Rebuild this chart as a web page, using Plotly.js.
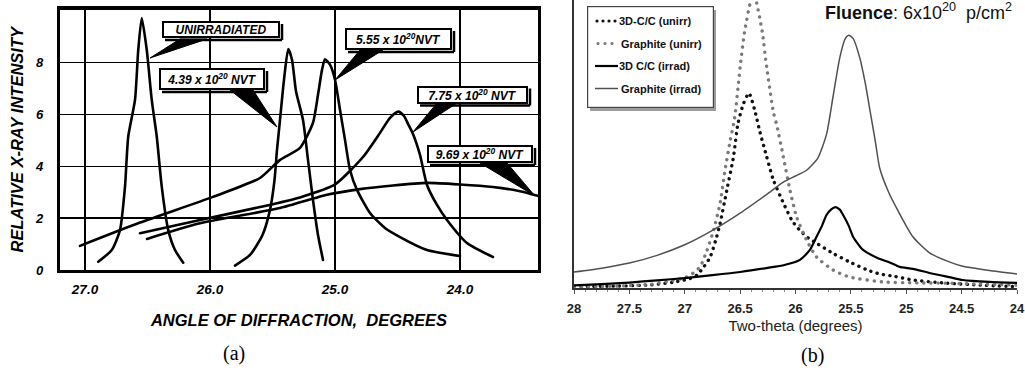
<!DOCTYPE html>
<html>
<head>
<meta charset="utf-8">
<script src="https://cdn.plot.ly/plotly-3.0.1.min.js"></script>
<style>
html,body{margin:0;padding:0;background:#fff;}
#chart{width:1025px;height:372px;}
path.js-line{stroke-linecap:round;stroke-linejoin:round;}
</style>
</head>
<body>
<div id="chart"></div>
<script>
// ---------- Panel (a): relative X-ray intensity vs angle of diffraction ----------
const unirrX = [26.894, 26.786, 26.72, 26.68, 26.654, 26.60, 26.574, 26.546, 26.506, 26.466, 26.426, 26.386, 26.334, 26.28, 26.214];
const unirrY = [0.32, 0.77, 1.54, 3.22, 5.15, 6.56, 8.49, 9.72, 8.49, 6.56, 5.15, 3.22, 1.54, 0.77, 0.28];

const n439X = [25.80, 25.68, 25.58, 25.52, 25.484, 25.464, 25.44, 25.408, 25.374, 25.344, 25.312, 25.256, 25.216, 25.176, 25.136, 25.096];
const n439Y = [0.17, 0.58, 1.35, 2.32, 3.47, 4.63, 5.79, 7.34, 8.52, 8.11, 6.9, 5.79, 4.25, 2.7, 1.35, 0.39];

const n555X = [27.04, 26.56, 25.976, 25.60, 25.44, 25.28, 25.176, 25.136, 25.104, 25.08, 25.04, 25.0, 24.96, 24.92, 24.88, 24.824, 24.72, 24.60, 24.48, 24.264, 24.0];
const n555Y = [0.93, 1.83, 2.82, 3.55, 4.25, 4.71, 5.68, 6.76, 7.72, 8.13, 7.92, 7.34, 6.18, 5.02, 3.86, 3.09, 2.2, 1.62, 1.27, 0.77, 0.54];

const n775X = [26.56, 26.08, 25.60, 25.28, 25.0, 24.776, 24.64, 24.56, 24.494, 24.448, 24.416, 24.376, 24.32, 24.264, 24.184, 24.104, 23.944, 23.736];
const n775Y = [1.42, 1.93, 2.43, 2.8, 3.3, 4.36, 5.29, 5.87, 6.11, 5.94, 5.64, 5.25, 4.44, 3.28, 2.51, 1.93, 1.04, 0.5];

const n969X = [26.504, 26.08, 25.44, 25.064, 24.80, 24.536, 24.264, 24.0, 23.736, 23.52, 23.376];
const n969Y = [1.2, 1.8, 2.39, 2.9, 3.12, 3.26, 3.36, 3.3, 3.2, 3.04, 2.86];

const aXTicks = [27, 26, 25, 24];
const aXTickText = ['27.0', '26.0', '25.0', '24.0'];
const aYTicks = [0, 2, 4, 6, 8];
const aLabels = ['UNIRRADIATED', '4.39 x 10<sup>20</sup> NVT', '5.55 x 10<sup>20</sup>NVT', '7.75 x 10<sup>20</sup> NVT', '9.69 x 10<sup>20</sup> NVT'];

// ---------- Panel (b): intensity vs two-theta ----------
const ccUnirrX = [28.0, 27.6, 27.3, 27.1, 26.95, 26.89, 26.83, 26.77, 26.72, 26.68, 26.62, 26.56, 26.52, 26.47, 26.42, 26.37, 26.32, 26.26, 26.20, 26.11, 26.03, 25.96, 25.88, 25.81, 25.66, 25.51, 25.35, 25.24, 25.1, 24.94, 24.63, 24.33, 24.0];
const ccUnirrY = [0.05, 0.06, 0.1, 0.18, 0.3, 0.4, 0.65, 0.97, 1.5, 2.03, 3.06, 4.1, 5.13, 5.76, 6.09, 5.58, 4.86, 4.1, 3.38, 2.66, 2.1, 1.8, 1.55, 1.4, 1.08, 0.81, 0.56, 0.44, 0.36, 0.25, 0.15, 0.09, 0.04];

const grUnirrX = [28.0, 27.6, 27.3, 27.13, 27.0, 26.93, 26.86, 26.80, 26.74, 26.68, 26.64, 26.59, 26.55, 26.50, 26.46, 26.41, 26.38, 26.35, 26.30, 26.26, 26.20, 26.17, 26.11, 26.05, 25.99, 25.90, 25.81, 25.66, 25.51, 25.21, 24.9, 24.63, 24.3, 24.0];
const grUnirrY = [0.04, 0.06, 0.12, 0.22, 0.32, 0.45, 0.67, 1.17, 1.8, 2.66, 3.6, 4.6, 5.3, 6.9, 8.0, 8.9, 9.3, 8.9, 8.0, 6.9, 5.5, 5.1, 4.1, 3.06, 2.22, 1.5, 0.97, 0.56, 0.34, 0.19, 0.16, 0.15, 0.12, 0.09];

const ccIrradX = [28.0, 27.75, 27.5, 27.25, 27.0, 26.75, 26.5, 26.25, 26.1, 25.96, 25.87, 25.81, 25.76, 25.72, 25.68, 25.64, 25.6, 25.57, 25.52, 25.48, 25.43, 25.39, 25.26, 25.15, 25.06, 24.94, 24.79, 24.6, 24.49, 24.25, 24.0];
const ccIrradY = [0.08, 0.12, 0.17, 0.24, 0.31, 0.4, 0.5, 0.63, 0.72, 0.88, 1.19, 1.6, 1.95, 2.28, 2.45, 2.53, 2.45, 2.28, 1.95, 1.6, 1.35, 1.19, 0.94, 0.8, 0.66, 0.6, 0.47, 0.33, 0.25, 0.19, 0.16];

const grIrradX = [28.0, 27.75, 27.5, 27.25, 27.0, 26.75, 26.5, 26.25, 26.1, 26.0, 25.9, 25.8, 25.72, 25.66, 25.6, 25.55, 25.52, 25.48, 25.42, 25.37, 25.33, 25.28, 25.24, 25.16, 25.08, 24.94, 24.79, 24.6, 24.49, 24.25, 24.0];
const grIrradY = [0.5, 0.62, 0.78, 1.02, 1.35, 1.8, 2.34, 2.95, 3.33, 3.5, 3.68, 4.05, 4.8, 6.0, 7.2, 7.8, 7.9, 7.8, 7.2, 6.4, 5.6, 4.6, 3.75, 3.0, 2.45, 1.6, 1.1, 0.8, 0.68, 0.55, 0.44];

const seriesNames = ['3D-C/C (unirr)', 'Graphite (unirr)', '3D C/C (irrad)', 'Graphite (irrad)'];
const seriesColors = ['#111111', '#7a7a7a', '#000000', '#505050'];

// ---------- layout helpers (pixel -> paper) ----------
const W = 1025, H = 372;
const px = v => v / W;
const py = v => 1 - v / H;
const ARIAL = '"Liberation Sans", Arial, sans-serif';
const SERIF = '"Liberation Serif", "Times New Roman", serif';

const aLine = {color: '#000', width: 2.6, shape: 'spline', smoothing: 0.6};
function aTrace(x, y) {
  return {x, y, xaxis: 'x', yaxis: 'y', type: 'scatter', mode: 'lines', line: aLine, showlegend: false, hoverinfo: 'skip'};
}

const traces = [
  aTrace(unirrX, unirrY),
  aTrace(n439X, n439Y),
  aTrace(n555X, n555Y),
  aTrace(n775X, n775Y),
  aTrace(n969X, n969Y),
  {x: ccUnirrX, y: ccUnirrY, xaxis: 'x2', yaxis: 'y2', type: 'scatter', mode: 'lines', name: seriesNames[0], showlegend: false,
   line: {color: seriesColors[0], width: 3.4, dash: '0.1px,6.4px', shape: 'spline', smoothing: 0.6}},
  {x: grUnirrX, y: grUnirrY, xaxis: 'x2', yaxis: 'y2', type: 'scatter', mode: 'lines', name: seriesNames[1], showlegend: false,
   line: {color: seriesColors[1], width: 3.4, dash: '0.1px,7px', shape: 'spline', smoothing: 0.6}},
  {x: ccIrradX, y: ccIrradY, xaxis: 'x2', yaxis: 'y2', type: 'scatter', mode: 'lines', name: seriesNames[2], showlegend: false,
   line: {color: seriesColors[2], width: 2.2, shape: 'spline', smoothing: 0.6}},
  {x: grIrradX, y: grIrradY, xaxis: 'x2', yaxis: 'y2', type: 'scatter', mode: 'lines', name: seriesNames[3], showlegend: false,
   line: {color: seriesColors[3], width: 1.5, shape: 'spline', smoothing: 0.6}}
];

// label boxes for panel (a): [centerX, centerY, width, height] in px, and wedge [b1x,b1y,b2x,b2y,tipx,tipy]
const boxes = [
  [221, 29.5, 118, 17], [212, 79, 106, 22], [398.5, 39, 107, 22], [472.5, 94.5, 111, 18], [480, 154, 106, 18]
];
const wedges = [
  [180, 39, 207, 39, 150, 58],
  [230, 90, 253, 90, 277, 127],
  [360, 50, 383, 50, 335, 80],
  [437, 103, 457, 103, 413, 132],
  [480, 163, 507, 163, 535, 196]
];

function seg(x0, y0, x1, y1, color, width) {
  return {type: 'line', xref: 'paper', yref: 'paper', layer: 'above',
    x0: px(x0), y0: py(y0), x1: px(x1), y1: py(y1), line: {color: color, width: width}};
}

const shapes = [];
wedges.forEach(w => {
  shapes.push({type: 'path', xref: 'paper', yref: 'paper', layer: 'above',
    path: `M${px(w[0])},${py(w[1])} L${px(w[2])},${py(w[3])} L${px(w[4])},${py(w[5])} Z`,
    fillcolor: '#000', line: {color: '#000', width: 1}});
});
boxes.forEach(b => {
  const r = b[0] + b[2] / 2 + 2, btm = b[1] + b[3] / 2 + 2;
  shapes.push(seg(r, b[1] - b[3] / 2 + 3, r, btm, '#000', 2.5));
  shapes.push(seg(b[0] - b[2] / 2 + 3, btm, r, btm, '#000', 2.5));
});

// legend samples
const legRows = [21, 43.5, 66, 88.5];
[597, 603, 609, 615].forEach(cx => shapes.push({type: 'circle', xref: 'paper', yref: 'paper', layer: 'above',
  x0: px(cx - 1.6), x1: px(cx + 1.6), y0: py(legRows[0] + 1.6), y1: py(legRows[0] - 1.6), fillcolor: seriesColors[0], line: {width: 0}}));
[598, 605, 612].forEach(cx => shapes.push({type: 'circle', xref: 'paper', yref: 'paper', layer: 'above',
  x0: px(cx - 1.6), x1: px(cx + 1.6), y0: py(legRows[1] + 1.6), y1: py(legRows[1] - 1.6), fillcolor: seriesColors[1], line: {width: 0}}));
shapes.push(seg(595, legRows[2], 618, legRows[2], seriesColors[2], 2.2));
shapes.push(seg(595, legRows[3], 618, legRows[3], seriesColors[3], 1.5));

const annotations = [];
// legend frame of panel (b): shadow strips and a transparent bordered box
function frameBox(cx, cy, w, h, bg, bc, bw) {
  return {xref: 'paper', yref: 'paper', x: px(cx), y: py(cy), xanchor: 'center', yanchor: 'middle', showarrow: false,
    text: '\u00a0', width: Math.max(w - bw, 1), height: Math.max(h - bw, 1), borderpad: 0, borderwidth: bw,
    bgcolor: bg, bordercolor: bc, font: {size: 1, color: 'rgba(0,0,0,0)'}};
}
annotations.push(frameBox(714.5, 60, 3, 100, '#9c9c9c', 'rgba(0,0,0,0)', 0));
annotations.push(frameBox(653, 109.5, 126, 3, '#9c9c9c', 'rgba(0,0,0,0)', 0));
annotations.push(frameBox(650, 57.5, 126, 101, 'rgba(0,0,0,0)', '#444444', 1.2));

boxes.forEach((b, i) => {
  annotations.push({xref: 'paper', yref: 'paper', x: px(b[0]), y: py(b[1]), xanchor: 'center', yanchor: 'middle',
    text: aLabels[i], showarrow: false, width: b[2] - 6, height: b[3] - 6, borderpad: 1, borderwidth: 2,
    bordercolor: '#000', bgcolor: '#fff', align: 'center',
    font: {family: ARIAL, size: 12, color: '#000', weight: 'bold', style: 'italic'}});
});
seriesNames.forEach((n, i) => {
  annotations.push({xref: 'paper', yref: 'paper', x: px(i === 0 || i === 2 ? 617 : 619), y: py(legRows[i]), xanchor: 'left', yanchor: 'middle',
    showarrow: false, text: n, font: {family: ARIAL, size: 11, color: '#111', weight: 'bold'}});
});
annotations.push({xref: 'paper', yref: 'paper', x: px(1014), y: py(12), xanchor: 'right', yanchor: 'middle', showarrow: false,
  text: '<b>Fluence</b>: 6x10<sup>20</sup>  p/cm<sup>2</sup>', font: {family: ARIAL, size: 18, color: '#111'}});
annotations.push({xref: 'paper', yref: 'paper', x: px(234), y: py(353), xanchor: 'center', yanchor: 'middle', showarrow: false,
  text: '(a)', font: {family: SERIF, size: 20, color: '#000'}});
annotations.push({xref: 'paper', yref: 'paper', x: px(812), y: py(355), xanchor: 'center', yanchor: 'middle', showarrow: false,
  text: '(b)', font: {family: SERIF, size: 20, color: '#000'}});

const aTitleFont = {family: ARIAL, size: 16.5, color: '#000', weight: 'bold', style: 'italic'};

const layout = {
  width: W, height: H,
  margin: {l: 0, r: 0, t: 0, b: 0},
  paper_bgcolor: '#fff', plot_bgcolor: 'rgba(0,0,0,0)',
  showlegend: false,
  xaxis: {
    domain: [px(60), px(538)], range: [27.2, 23.376], anchor: 'y',
    tickvals: aXTicks, ticktext: aXTickText, ticks: '', ticklabelstandoff: 5,
    showgrid: true, gridcolor: '#000', gridwidth: 1.6,
    showline: true, linecolor: '#000', linewidth: 3.2, mirror: true, zeroline: false,
    tickfont: {family: ARIAL, size: 13.5, color: '#000', weight: 'bold', style: 'italic'},
    title: {text: 'ANGLE OF DIFFRACTION,  DEGREES', font: aTitleFont, standoff: 19}
  },
  yaxis: {
    domain: [py(270), py(9.5)], range: [0, 10.05], anchor: 'x',
    tickvals: aYTicks, ticks: '', ticklabelstandoff: 11,
    showgrid: true, gridcolor: '#000', gridwidth: 1.6,
    showline: true, linecolor: '#000', linewidth: 3.2, mirror: true, zeroline: false,
    tickfont: {family: ARIAL, size: 13, color: '#000', weight: 'bold', style: 'italic'},
    title: {text: 'RELATIVE X-RAY INTENSITY', font: aTitleFont, standoff: 8}
  },
  xaxis2: {
    domain: [px(574), px(1017)], range: [28, 24], anchor: 'y2',
    tick0: 24, dtick: 0.5, ticks: 'outside', ticklen: 4, tickwidth: 1, tickcolor: '#555', ticklabelstandoff: 4,
    minor: {dtick: 0.1, ticks: 'outside', ticklen: 2.5, tickwidth: 1, tickcolor: '#888', showgrid: false},
    showgrid: false, zeroline: false, showline: true, linecolor: '#333', linewidth: 1.6,
    tickfont: {family: ARIAL, size: 13, color: '#222', weight: 'bold'},
    title: {text: 'Two-theta (degrees)', font: {family: ARIAL, size: 15, color: '#222'}, standoff: 5}
  },
  yaxis2: {
    domain: [py(288), 1], range: [0, 9], anchor: 'x2',
    showticklabels: false, ticks: '', showgrid: false, zeroline: false,
    showline: true, linecolor: '#333', linewidth: 1.6
  },
  yaxis3: {
    domain: [py(288), 1], range: [0, 9], anchor: 'x2', overlaying: 'y2', side: 'right',
    showticklabels: false, ticks: 'inside', ticklen: 3, tickcolor: '#888', dtick: 1, showgrid: false, zeroline: false,
    showline: true, linecolor: '#333', linewidth: 1.6
  },
  shapes: shapes,
  annotations: annotations
};

Plotly.newPlot('chart', traces, layout, {displayModeBar: false, staticPlot: true});
</script>
</body>
</html>
